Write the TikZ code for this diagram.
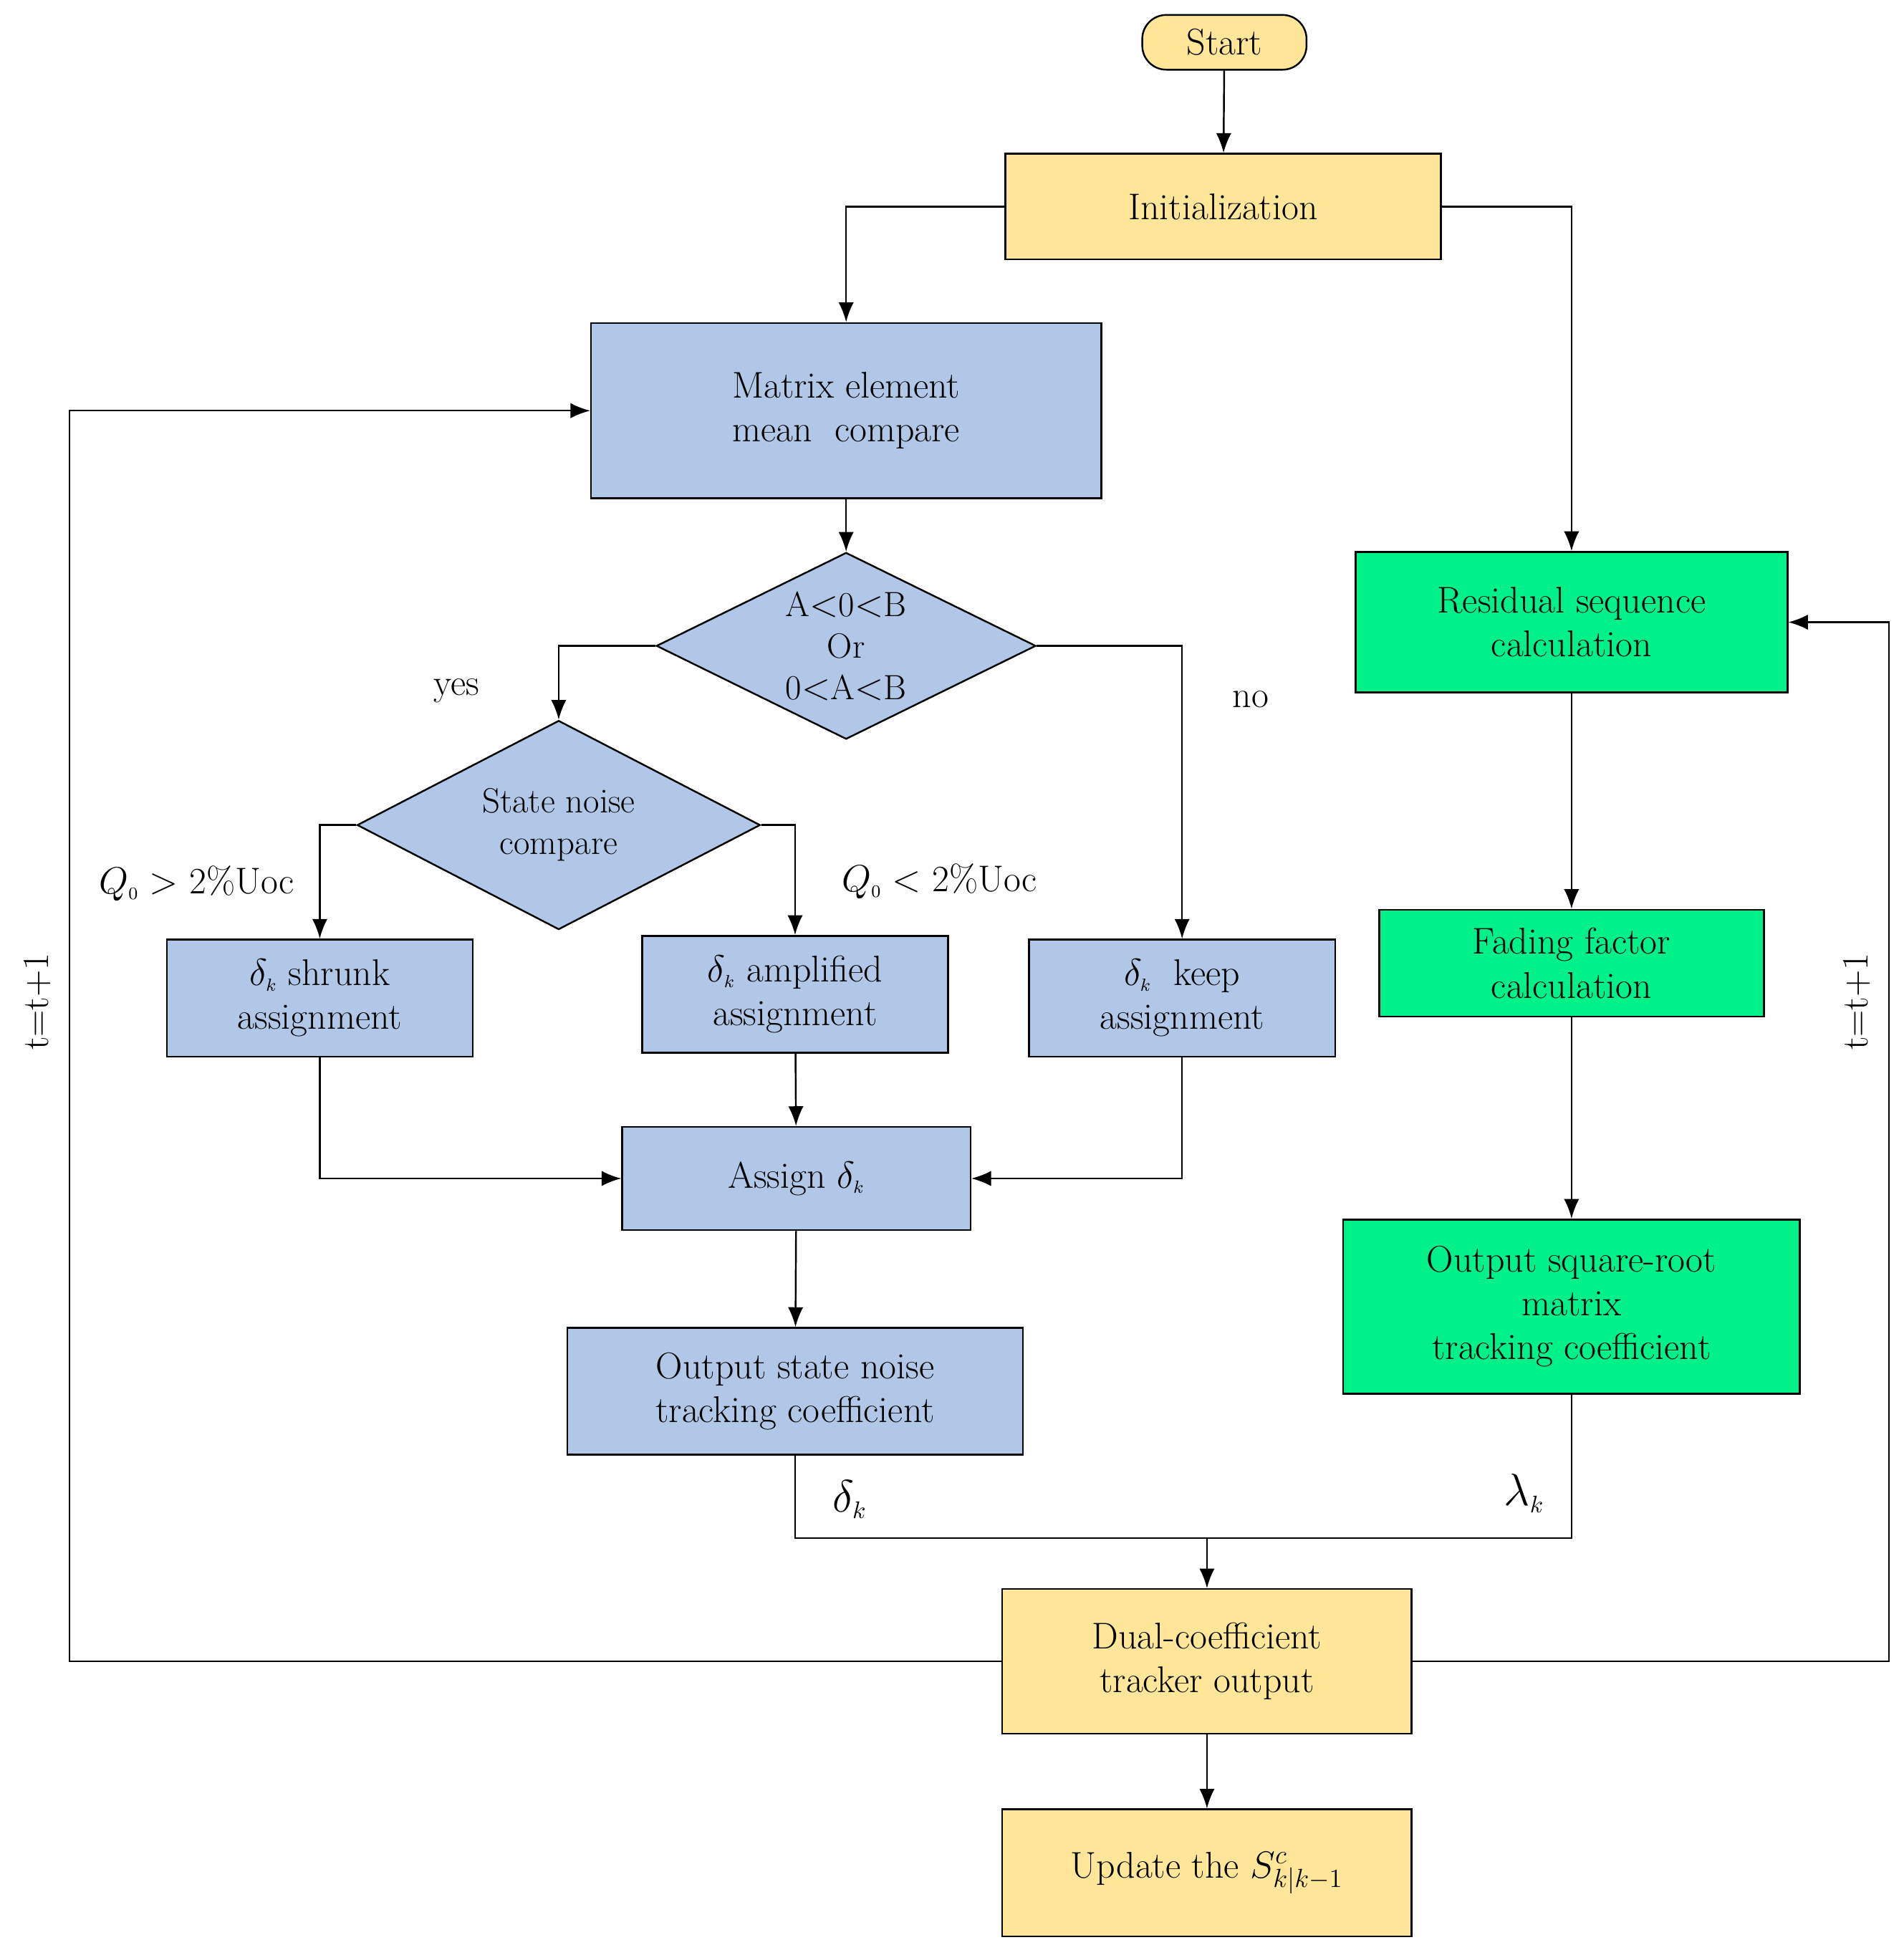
\documentclass[tikz,border=0pt]{standalone}
\usetikzlibrary{shapes.geometric,arrows.meta}
\definecolor{cyel}{HTML}{FFE699}
\definecolor{cblue}{HTML}{B0C7E8}
\definecolor{cgreen}{HTML}{00F08A}
\begin{document}
\begin{tikzpicture}[x=0.02cm,y=-0.02cm,>={Latex[length=9pt,width=7pt]},thick]
	\tikzstyle{box}=[draw=black,align=center,inner sep=0pt,font=\fontsize{17}{20}\selectfont]
	\tikzstyle{ybox}=[box,fill=cyel]
	\tikzstyle{bbox}=[box,fill=cblue]
	\tikzstyle{gbox}=[box,fill=cgreen]
	\tikzstyle{dec}=[diamond,draw=black,fill=cblue,aspect=2,inner sep=0pt,align=center,font=\fontsize{16}{19}\selectfont]
	\tikzstyle{lbl}=[font=\fontsize{17}{20}\selectfont]
	\useasboundingbox (0,0) rectangle (1530,1563);
	\node[ybox,rounded corners=11pt,minimum width=132*0.02cm,minimum height=44*0.02cm] (start) at (984,34) {Start};
	\node[ybox,minimum width=350*0.02cm,minimum height=85*0.02cm] (init) at (983,166) {Initialization};
	\node[bbox,minimum width=410*0.02cm,minimum height=141*0.02cm] (matrix) at (680,330) {Matrix element\\mean\ \ compare};
	\node[dec,minimum width=305*0.02cm,minimum height=150*0.02cm] (cmp1) at (680,519) {A$<$0$<$B\\Or\\0$<$A$<$B};
	\node[gbox,minimum width=347*0.02cm,minimum height=113*0.02cm] (resid) at (1263,500) {Residual sequence\\calculation};
	\node[dec,minimum width=324*0.02cm,minimum height=168*0.02cm] (cmp2) at (449,663) {State noise\\compare};
	\node[bbox,minimum width=246*0.02cm,minimum height=94*0.02cm] (shrunk) at (257,802) {$\delta_{\scriptscriptstyle k}$ shrunk\\assignment};
	\node[bbox,minimum width=246*0.02cm,minimum height=94*0.02cm] (ampl) at (639,799) {$\delta_{\scriptscriptstyle k}$ amplified\\assignment};
	\node[bbox,minimum width=246*0.02cm,minimum height=94*0.02cm] (keep) at (950,802) {$\delta_{\scriptscriptstyle k}$\ \ keep\\assignment};
	\node[gbox,minimum width=309*0.02cm,minimum height=86*0.02cm] (fading) at (1263,774) {Fading factor\\calculation};
	\node[bbox,minimum width=280*0.02cm,minimum height=83*0.02cm] (assign) at (640,947) {Assign $\delta_{\scriptscriptstyle k}$};
	\node[gbox,minimum width=367*0.02cm,minimum height=140*0.02cm] (sqout) at (1263,1050) {Output square-root\\matrix\\tracking coefficient};
	\node[bbox,minimum width=366*0.02cm,minimum height=102*0.02cm] (stout) at (639,1118) {Output state noise\\tracking coefficient};
	\node[ybox,minimum width=329*0.02cm,minimum height=116*0.02cm] (dual) at (970,1335) {Dual-coefficient\\tracker output};
	\node[ybox,minimum width=329*0.02cm,minimum height=102*0.02cm] (update) at (970,1505) {Update the $S^{c}_{k|k-1}$};
	% labels
	\node[lbl] (yes) at (367,555) {yes};
	\node[lbl] (no) at (1005,562) {no};
	\node[lbl] (qgt) at (158,710) {$Q_{\scriptscriptstyle 0}>$ 2\%Uoc};
	\node[lbl] (qlt) at (755,708) {$Q_{\scriptscriptstyle 0}<$ 2\%Uoc};
	\node[lbl,font=\fontsize{22}{24}\selectfont] (dk) at (683,1205) {$\delta_{\scriptscriptstyle k}$};
	\node[lbl,font=\fontsize{22}{24}\selectfont] (lk) at (1225,1200) {$\lambda_{\scriptscriptstyle k}$};
	\node[lbl,rotate=90] (tl) at (30,805) {t=t+1};
	\node[lbl,rotate=90] (tr) at (1492,805) {t=t+1};
	\coordinate (merge) at (970,1236);
	% connectors
	\draw[->] (start) -- (init);
	\draw[->] (init.west) -| (matrix.north);
	\draw[->] (init.east) -| (resid.north);
	\draw[->] (matrix) -- (cmp1);
	\draw[->] (cmp1.west) -| (cmp2.north);
	\draw[->] (cmp1.east) -| (keep.north);
	\draw[->] (cmp2.west) -| (shrunk.north);
	\draw[->] (cmp2.east) -| (ampl.north);
	\draw[->] (shrunk.south) |- (assign.west);
	\draw[->] (keep.south) |- (assign.east);
	\draw[->] (ampl) -- (assign);
	\draw[->] (assign) -- (stout);
	\draw[->] (resid) -- (fading);
	\draw[->] (fading) -- (sqout);
	\draw (stout.south) |- (merge) -| (sqout.south);
	\draw[->] (merge) -- (dual);
	\draw[->] (dual.west) -- (56,1335) |- (matrix.west);
	\draw[->] (dual.east) -- (1518,1335) |- (resid.east);
	\draw[->] (dual) -- (update);
\end{tikzpicture}
\end{document}
